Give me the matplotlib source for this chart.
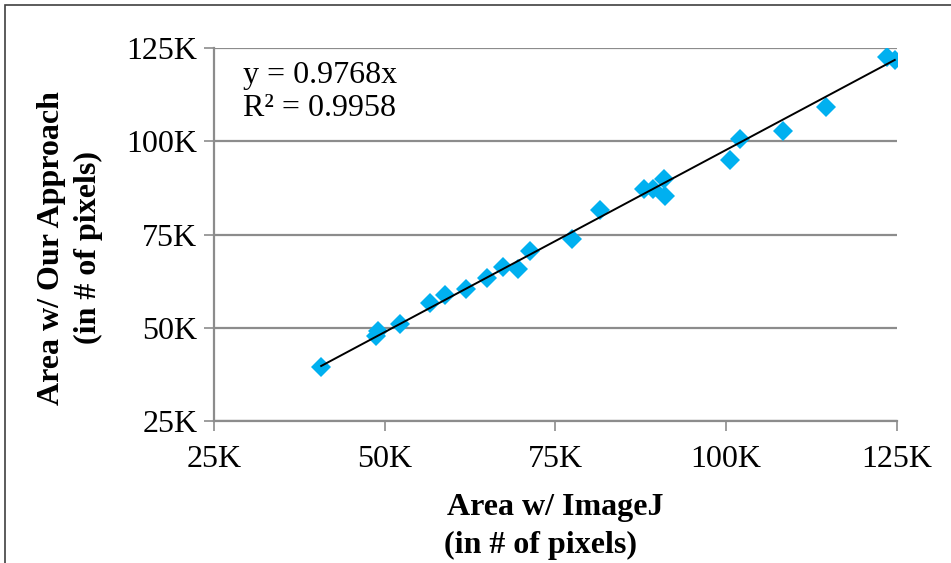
import matplotlib
matplotlib.use("Agg")
from matplotlib import pyplot as plt
from matplotlib.patches import Rectangle
from matplotlib.ticker import FuncFormatter
import numpy as np

plt.rcParams['font.family'] = ['Liberation Serif', 'DejaVu Serif']

# area measured with ImageJ vs. our approach (thousands of pixels)
imagej_k = [40.7, 48.7, 49.0, 52.3, 56.6, 58.8, 61.9, 65.0, 67.3, 69.5, 71.3,
            77.4, 81.6, 88.0, 89.3, 90.9, 91.1, 100.5, 102.1, 108.3, 114.6,
            123.6, 124.7]
ours_k = [39.6, 47.8, 49.2, 51.0, 56.6, 58.8, 60.3, 63.3, 66.4, 65.8, 70.7,
          73.8, 81.6, 87.2, 87.1, 89.9, 85.4, 95.0, 100.6, 102.8, 109.1,
          122.5, 121.8]
slope = 0.9768
r2 = 0.9958
ticks_k = [25, 50, 75, 100, 125]

x = np.array(imagej_k) * 1000
y = np.array(ours_k) * 1000

fig = plt.figure(figsize=(9.51, 5.63), dpi=100)
ax = fig.add_axes([0.225, 0.2522, 0.718, 0.6625])

# outer frame of the chart area
fig.patches.append(Rectangle((5 / 951, -0.1), 1.2, (563 - 5) / 563 + 0.1,
                             transform=fig.transFigure, fill=False,
                             edgecolor='#404040', linewidth=1.2))

grid_c = '#8c8c8c'
ax.set_xlim(25000, 125000)
ax.set_ylim(25000, 125000)
ax.set_xticks([t * 1000 for t in ticks_k])
ax.set_yticks([t * 1000 for t in ticks_k])
fmt = FuncFormatter(lambda v, p: '%dK' % round(v / 1000))
ax.xaxis.set_major_formatter(fmt)
ax.yaxis.set_major_formatter(fmt)
ax.grid(axis='y', color=grid_c, linewidth=1.6)
ax.set_axisbelow(True)
for s in ['top', 'right']:
    ax.spines[s].set_visible(False)
for s in ['left', 'bottom']:
    ax.spines[s].set_color(grid_c)
    ax.spines[s].set_linewidth(1.6)
ax.tick_params(direction='out', length=7, width=1.2, color=grid_c,
               labelsize=23, pad=5)
ax.tick_params(axis='x', pad=10)

ax.plot(x, y, 'D', color='#00b0f0', markersize=10, markeredgewidth=0,
        zorder=3)

# linear trendline through the origin
xl = np.array([x.min(), x.max()])
ax.plot(xl, slope * xl, color='black', linewidth=1.4, zorder=4)

ax.text(0.042, 0.965, 'y = %.4fx\nR² = %.4f' % (slope, r2),
        transform=ax.transAxes, fontsize=23, va='top', ha='left',
        linespacing=1.2)

fig.text(555 / 951, 1 - 508 / 563, 'Area w/ ImageJ', fontsize=23,
         fontweight='bold', ha='center', va='center')
fig.text(541 / 951, 1 - 545 / 563, '(in # of pixels)', fontsize=23,
         fontweight='bold', ha='center', va='center')
fig.text(52 / 951, 1 - 248 / 563, 'Area w/ Our Approach', fontsize=23,
         fontweight='bold', ha='center', va='center', rotation=90)
fig.text(88 / 951, 1 - 247 / 563, '(in # of pixels)', fontsize=23,
         fontweight='bold', ha='center', va='center', rotation=90)

fig.savefig('out.png', dpi=100)
